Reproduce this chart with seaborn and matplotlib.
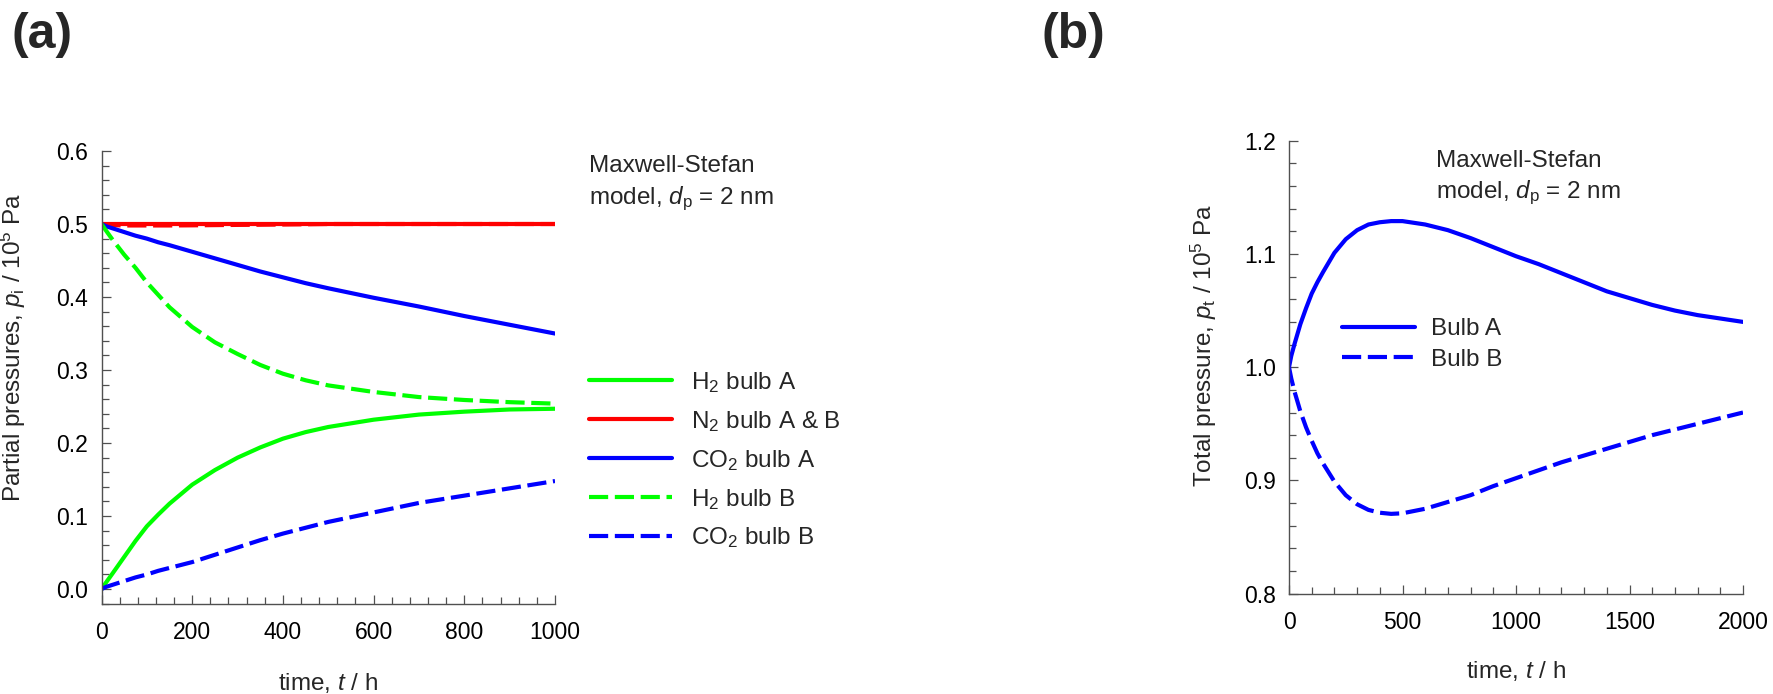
import numpy as np
import pandas as pd
import matplotlib
matplotlib.use("Agg")
import matplotlib.pyplot as plt
from matplotlib.ticker import MultipleLocator, FormatStrFormatter
import seaborn as sns

# ---------------- data: panel (a), partial pressures / 1e5 Pa ----------------
time_a = [0, 10, 25, 50, 75, 100, 125, 150, 200, 250, 300, 350, 400, 450, 500,
          600, 700, 800, 900, 1000]
h2_bulb_a = [0.0, 0.009, 0.022, 0.044, 0.066, 0.086, 0.102, 0.117, 0.143, 0.163, 0.180,
             0.194, 0.206, 0.215, 0.222, 0.232, 0.239, 0.243, 0.246, 0.247]
n2_bulb_a = [0.5] * 20
n2_bulb_b = [0.5, 0.499, 0.4985, 0.498, 0.498, 0.498, 0.498, 0.498, 0.4982, 0.4985, 0.4988,
             0.499, 0.4993, 0.4996, 0.5, 0.5, 0.5, 0.5, 0.5, 0.5]
co2_bulb_a = [0.5, 0.497, 0.494, 0.489, 0.484, 0.480, 0.475, 0.471, 0.462, 0.453, 0.444,
              0.435, 0.427, 0.419, 0.412, 0.399, 0.387, 0.374, 0.362, 0.350]
h2_bulb_b = [0.5, 0.491, 0.478, 0.458, 0.440, 0.420, 0.403, 0.386, 0.359, 0.338, 0.322,
             0.307, 0.295, 0.286, 0.279, 0.270, 0.263, 0.259, 0.256, 0.254]
co2_bulb_b = [0.0, 0.003, 0.006, 0.011, 0.016, 0.020, 0.025, 0.029, 0.037, 0.047, 0.057,
              0.067, 0.076, 0.084, 0.092, 0.105, 0.118, 0.128, 0.138, 0.148]

# ---------------- data: panel (b), total pressures / 1e5 Pa ----------------
time_b = [0, 10, 25, 50, 75, 100, 125, 150, 200, 250, 300, 350, 400, 450, 500, 600, 700,
          800, 900, 1000, 1100, 1200, 1300, 1400, 1500, 1600, 1700, 1800, 1900, 2000]
total_bulb_a = [1.0, 1.010, 1.021, 1.038, 1.052, 1.065, 1.075, 1.084, 1.101, 1.113, 1.121,
                1.126, 1.128, 1.129, 1.129, 1.126, 1.121, 1.114, 1.106, 1.098, 1.091,
                1.083, 1.075, 1.067, 1.061, 1.055, 1.050, 1.046, 1.043, 1.040]
total_bulb_b = [1.0, 0.990, 0.978, 0.961, 0.947, 0.935, 0.924, 0.915, 0.899, 0.887, 0.879,
                0.874, 0.8715, 0.8705, 0.871, 0.875, 0.881, 0.887, 0.895, 0.902, 0.909,
                0.916, 0.922, 0.928, 0.934, 0.940, 0.945, 0.950, 0.955, 0.960]

# ---------------- style ----------------
sns.set_theme(style="ticks")
plt.rcParams["font.family"] = ["Liberation Sans", "DejaVu Sans"]
plt.rcParams["mathtext.fontset"] = "custom"
plt.rcParams["mathtext.rm"] = "Liberation Sans"
plt.rcParams["mathtext.it"] = "Liberation Sans:italic"
plt.rcParams["mathtext.bf"] = "Liberation Sans:bold"

FS = 17.5        # labels, legends, annotations
FS_TICK = 16.5   # tick labels
LW = 3.0
DASH = (0, (4.6, 1.6))
GREEN, RED, BLUE = "#00ff00", "#ff0000", "#0000ff"
AXCOL = "#505050"

W, H = 1773, 694
fig = plt.figure(figsize=(W / 100, H / 100), dpi=100)


def fx(px):
    return px / W


def fy(py):
    return 1 - py / H


ax_a = fig.add_axes([fx(101.5), fy(603.7), 453.5 / W, 452.7 / H])
ax_b = fig.add_axes([fx(1289), fy(593.7), 454 / W, 453 / H])


def style_axes(ax):
    for side in ("top", "right"):
        ax.spines[side].set_visible(False)
    for side in ("left", "bottom"):
        ax.spines[side].set_color(AXCOL)
        ax.spines[side].set_linewidth(1.0)
    ax.tick_params(which="both", direction="in", color=AXCOL, width=0.9,
                   labelsize=FS_TICK, labelcolor="black")
    ax.tick_params(which="major", length=6.8)
    ax.tick_params(which="minor", length=5.0)
    ax.tick_params(axis="x", which="both", pad=12.5)
    ax.tick_params(axis="y", which="both", pad=9.5)
    ax.grid(False)


# ---------------- panel (a) ----------------
df_a = pd.DataFrame({
    "t": time_a,
    "h2_a": h2_bulb_a, "n2_a": n2_bulb_a, "n2_b": n2_bulb_b,
    "co2_a": co2_bulb_a, "h2_b": h2_bulb_b, "co2_b": co2_bulb_b,
})

sns.lineplot(data=df_a, x="t", y="n2_b", ax=ax_a, color=RED, lw=LW, linestyle=DASH)
sns.lineplot(data=df_a, x="t", y="h2_a", ax=ax_a, color=GREEN, lw=LW,
             label=r"H$_\mathregular{2}$ bulb A")
sns.lineplot(data=df_a, x="t", y="n2_a", ax=ax_a, color=RED, lw=LW,
             label=r"N$_\mathregular{2}$ bulb A & B")
sns.lineplot(data=df_a, x="t", y="co2_a", ax=ax_a, color=BLUE, lw=LW,
             label=r"CO$_\mathregular{2}$ bulb A")
sns.lineplot(data=df_a, x="t", y="h2_b", ax=ax_a, color=GREEN, lw=LW, linestyle=DASH,
             label=r"H$_\mathregular{2}$ bulb B")
sns.lineplot(data=df_a, x="t", y="co2_b", ax=ax_a, color=BLUE, lw=LW, linestyle=DASH,
             label=r"CO$_\mathregular{2}$ bulb B")

ax_a.set_xlim(0, 1000)
ax_a.set_ylim(-0.02, 0.6)
ax_a.xaxis.set_major_locator(MultipleLocator(200))
ax_a.xaxis.set_minor_locator(MultipleLocator(40))
ax_a.yaxis.set_major_locator(MultipleLocator(0.1))
ax_a.yaxis.set_minor_locator(MultipleLocator(0.02))
ax_a.yaxis.set_major_formatter(FormatStrFormatter("%.1f"))
style_axes(ax_a)
ax_a.set_xlabel(r"time, $\mathit{t}$ / h", fontsize=FS)
ax_a.set_ylabel(r"Partial pressures, $\mathit{p}_\mathregular{i}$ / 10$^\mathregular{5}$ Pa", fontsize=FS)
ax_a.xaxis.set_label_coords(0.5, -0.148)
ax_a.yaxis.set_label_coords(-0.163, 0.565)

handles, labels = ax_a.get_legend_handles_labels()
ax_a.legend(handles, labels, loc="upper left", bbox_to_anchor=(fx(589), fy(370)),
            bbox_transform=fig.transFigure, frameon=False, fontsize=FS,
            handlelength=3.4, handletextpad=0.78, labelspacing=0.575,
            borderpad=0, borderaxespad=0)

fig.text(fx(589), fy(166), "Maxwell-Stefan", fontsize=FS, ha="left", va="center")
fig.text(fx(589), fy(199), r"model, $\mathit{d}_\mathregular{p}$ = 2 nm", fontsize=FS,
         ha="left", va="center")

# ---------------- panel (b) ----------------
df_b = pd.DataFrame({"t": time_b, "bulb_a": total_bulb_a, "bulb_b": total_bulb_b})
sns.lineplot(data=df_b, x="t", y="bulb_a", ax=ax_b, color=BLUE, lw=LW, label="Bulb A")
sns.lineplot(data=df_b, x="t", y="bulb_b", ax=ax_b, color=BLUE, lw=LW, linestyle=DASH,
             label="Bulb B")

ax_b.set_xlim(0, 2000)
ax_b.set_ylim(0.8, 1.2)
ax_b.xaxis.set_major_locator(MultipleLocator(500))
ax_b.xaxis.set_minor_locator(MultipleLocator(100))
ax_b.yaxis.set_major_locator(MultipleLocator(0.1))
ax_b.yaxis.set_minor_locator(MultipleLocator(0.02))
ax_b.yaxis.set_major_formatter(FormatStrFormatter("%.1f"))
style_axes(ax_b)
ax_b.set_xlabel(r"time, $\mathit{t}$ / h", fontsize=FS)
ax_b.set_ylabel(r"Total pressure, $\mathit{p}_\mathregular{t}$ / 10$^\mathregular{5}$ Pa", fontsize=FS)
ax_b.xaxis.set_label_coords(0.5, -0.145)
ax_b.yaxis.set_label_coords(-0.155, 0.547)

ax_b.legend(loc="upper left", bbox_to_anchor=(fx(1342), fy(318)),
            bbox_transform=fig.transFigure, frameon=False, fontsize=FS,
            handlelength=3.0, handletextpad=0.67, labelspacing=0.35,
            borderpad=0, borderaxespad=0)

fig.text(fx(1436), fy(161), "Maxwell-Stefan", fontsize=FS, ha="left", va="center")
fig.text(fx(1436), fy(193), r"model, $\mathit{d}_\mathregular{p}$ = 2 nm", fontsize=FS,
         ha="left", va="center")

# panel tags
fig.text(fx(12), fy(12), "(a)", fontsize=36, fontweight="bold", ha="left", va="top")
fig.text(fx(1041), fy(12), "(b)", fontsize=36, fontweight="bold", ha="left", va="top")

fig.savefig("out.png", dpi=100)
